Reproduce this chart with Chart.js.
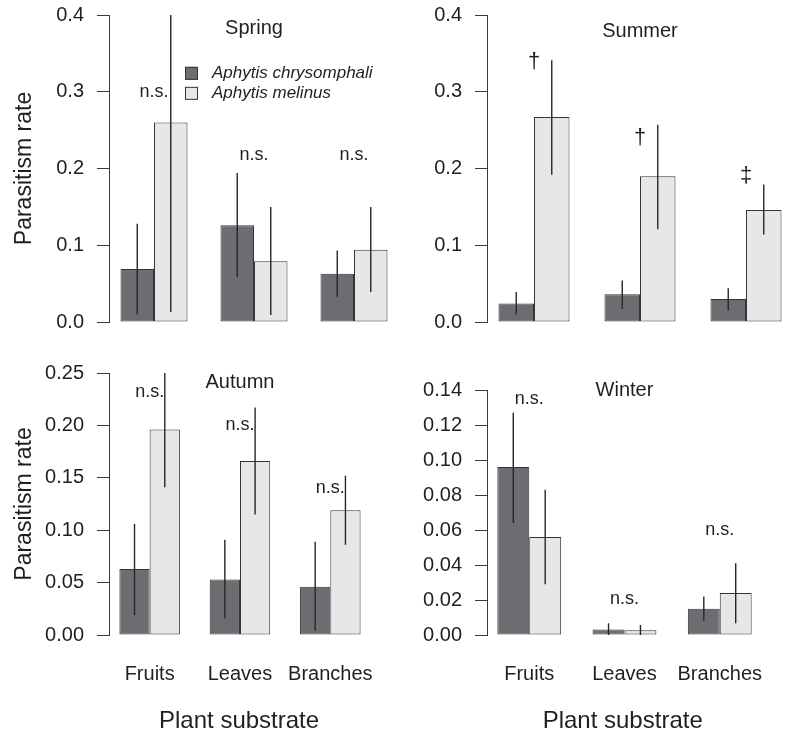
<!DOCTYPE html>
<html>
<head>
<meta charset="utf-8">
<script src="https://cdn.jsdelivr.net/npm/chart.js@4/dist/chart.umd.min.js"></script>
<style>
  html, body { margin: 0; padding: 0; background: #fff; }
  #wrap { position: relative; width: 789px; height: 733px; }
  canvas { position: absolute; }
</style>
</head>
<body>
<div id="wrap">
  <canvas id="spring" width="400" height="340" style="left:0;top:0"></canvas>
  <canvas id="summer" width="389" height="340" style="left:400px;top:0"></canvas>
  <canvas id="autumn" width="400" height="393" style="left:0;top:340px"></canvas>
  <canvas id="winter" width="389" height="393" style="left:400px;top:340px"></canvas>
</div>
<script>
var substrates = ['Fruits', 'Leaves', 'Branches'];
var speciesNames = ['Aphytis chrysomphali', 'Aphytis melinus'];

// Spring
var springChrys = [0.069, 0.126, 0.063];
var springChrysLo = [0.010, 0.059, 0.033];
var springChrysHi = [0.128, 0.194, 0.093];
var springMelin = [0.260, 0.079, 0.094];
var springMelinLo = [0.013, 0.009, 0.039];
var springMelinHi = [0.400, 0.150, 0.150];
var springMarks = ['n.s.', 'n.s.', 'n.s.'];
var springTicks = [0, 0.1, 0.2, 0.3, 0.4];

// Summer
var summerChrys = [0.024, 0.036, 0.030];
var summerChrysLo = [0.010, 0.017, 0.015];
var summerChrysHi = [0.039, 0.054, 0.044];
var summerMelin = [0.267, 0.190, 0.146];
var summerMelinLo = [0.192, 0.121, 0.114];
var summerMelinHi = [0.341, 0.257, 0.179];
var summerMarks = ['\u2020', '\u2020', '\u2021'];
var summerTicks = [0, 0.1, 0.2, 0.3, 0.4];

// Autumn
var autumnChrys = [0.063, 0.053, 0.046];
var autumnChrysLo = [0.019, 0.016, 0.004];
var autumnChrysHi = [0.106, 0.091, 0.089];
var autumnMelin = [0.196, 0.166, 0.119];
var autumnMelinLo = [0.141, 0.115, 0.086];
var autumnMelinHi = [0.250, 0.217, 0.152];
var autumnMarks = ['n.s.', 'n.s.', 'n.s.'];
var autumnTicks = [0, 0.05, 0.10, 0.15, 0.20, 0.25];

// Winter
var winterChrys = [0.096, 0.0032, 0.015];
var winterChrysLo = [0.064, 0.0, 0.008];
var winterChrysHi = [0.127, 0.0067, 0.022];
var winterMelin = [0.056, 0.0027, 0.024];
var winterMelinLo = [0.029, 0.0, 0.0067];
var winterMelinHi = [0.083, 0.0057, 0.041];
var winterMarks = ['n.s.', 'n.s.', 'n.s.'];
var winterTicks = [0, 0.02, 0.04, 0.06, 0.08, 0.10, 0.12, 0.14];

var FONT = "'Liberation Sans', Arial, Helvetica, sans-serif";
var DARK = '#6c6d71';
var LIGHT = '#e6e7e8';
var EDGE = '#353535';
var INK = '#1f1f1f';

Chart.defaults.font.family = FONT;
Chart.defaults.color = INK;

function barData(values) {
    return values.map(function (v, i) { return {x: i + 1, y: v}; });
}

var errorBars = {
    id: 'errorBars',
    afterDatasetsDraw: function (chart) {
        var ctx = chart.ctx, yScale = chart.scales.y;
        chart.data.datasets.forEach(function (ds, d) {
            var meta = chart.getDatasetMeta(d);
            meta.data.forEach(function (bar, i) {
                var y1 = yScale.getPixelForValue(ds.errLow[i]);
                var y2 = yScale.getPixelForValue(ds.errHigh[i]);
                ctx.save();
                ctx.strokeStyle = '#262626';
                ctx.lineWidth = 1.4;
                ctx.beginPath();
                ctx.moveTo(bar.x, y1);
                ctx.lineTo(bar.x, y2);
                ctx.stroke();
                ctx.restore();
            });
        });
    }
};

function textPlugin(cfg) {
    return {
        id: 'panelText',
        afterDraw: function (chart) {
            var ctx = chart.ctx, xs = chart.scales.x, ys = chart.scales.y;
            ctx.save();
            ctx.fillStyle = INK;
            ctx.textAlign = 'center';
            ctx.textBaseline = 'middle';
            // season title
            ctx.font = '20px ' + FONT;
            ctx.fillText(cfg.title, xs.getPixelForValue(2), ys.getPixelForValue(cfg.titleY));
            // significance marks
            ctx.font = cfg.markFont + 'px ' + FONT;
            cfg.marks.forEach(function (m, i) {
                ctx.fillText(m, xs.getPixelForValue(i + 1), ys.getPixelForValue(cfg.markY[i]));
            });
            // legend
            if (cfg.legend) {
                var lx = xs.getPixelForValue(cfg.legend.x);
                var ly = ys.getPixelForValue(cfg.legend.y);
                ctx.font = 'italic 17px ' + FONT;
                ctx.textAlign = 'left';
                [DARK, LIGHT].forEach(function (col, k) {
                    var cy = ly + k * 20;
                    ctx.fillStyle = col;
                    ctx.fillRect(lx, cy - 6.5, 13, 13);
                    ctx.strokeStyle = EDGE;
                    ctx.lineWidth = 1;
                    ctx.strokeRect(lx + 0.5, cy - 6, 12, 12);
                    ctx.fillStyle = INK;
                    ctx.fillText(speciesNames[k], lx + 27, cy);
                });
            }
            ctx.restore();
        }
    };
}

function makePanel(cfg) {
    var ctx = document.getElementById(cfg.id);
    return new Chart(ctx, {
        type: 'bar',
        data: {
            datasets: [
                {
                    label: speciesNames[0],
                    data: barData(cfg.chrys),
                    errLow: cfg.chrysLo,
                    errHigh: cfg.chrysHi,
                    backgroundColor: DARK,
                    borderColor: EDGE,
                    borderWidth: 1,
                    borderSkipped: false
                },
                {
                    label: speciesNames[1],
                    data: barData(cfg.melin),
                    errLow: cfg.melinLo,
                    errHigh: cfg.melinHi,
                    backgroundColor: LIGHT,
                    borderColor: EDGE,
                    borderWidth: 1,
                    borderSkipped: false
                }
            ]
        },
        options: {
            responsive: false,
            animation: false,
            categoryPercentage: 0.67,
            barPercentage: 1,
            layout: { padding: cfg.padding },
            plugins: { legend: { display: false }, tooltip: { enabled: false } },
            scales: {
                x: {
                    type: 'linear',
                    offset: false,
                    min: cfg.xMin,
                    max: cfg.xMax,
                    afterFit: function (s) { s.height = cfg.showX ? 98 : 0; },
                    grid: { display: false, drawTicks: false, offset: false },
                    border: { display: false },
                    ticks: {
                        display: cfg.showX,
                        stepSize: 1,
                        includeBounds: false,
                        padding: 27,
                        font: { size: 20 },
                        color: INK,
                        callback: function (v) { return substrates[v - 1] || ''; }
                    },
                    title: {
                        display: cfg.showX,
                        text: 'Plant substrate',
                        font: { size: 24, lineHeight: 1 },
                        color: INK,
                        padding: { top: 0, bottom: 0 }
                    }
                },
                y: {
                    min: cfg.yTicks[0],
                    max: cfg.yTicks[cfg.yTicks.length - 1],
                    afterFit: function (s) {
                        s.width = cfg.yWidth;
                        s.paddingTop = 0;
                        s.paddingBottom = 0;
                    },
                    afterBuildTicks: function (s) {
                        s.ticks = cfg.yTicks.map(function (v) { return {value: v}; });
                    },
                    grid: { display: true, drawOnChartArea: false, drawTicks: true, tickLength: 12, color: '#3a3a3a' },
                    border: { display: true, color: '#3a3a3a', width: 1 },
                    ticks: {
                        padding: 13,
                        font: { size: 20 },
                        color: INK,
                        callback: function (v) { return Number(v).toFixed(cfg.decimals); }
                    },
                    title: {
                        display: cfg.showYTitle,
                        text: 'Parasitism rate',
                        font: { size: 23, lineHeight: 1 },
                        color: INK,
                        padding: { top: 13, bottom: 0 }
                    }
                }
            }
        },
        plugins: [errorBars, textPlugin(cfg)]
    });
}

makePanel({
    id: 'spring', chrys: springChrys, chrysLo: springChrysLo, chrysHi: springChrysHi,
    melin: springMelin, melinLo: springMelinLo, melinHi: springMelinHi,
    yTicks: springTicks, decimals: 1, marks: springMarks, markY: [0.299, 0.218, 0.218], markFont: 18,
    title: 'Spring', titleY: 0.382, legend: { x: 1.31, y: 0.324 },
    xMin: 0.55, xMax: 3.43, yWidth: 109, showX: false, showYTitle: true,
    padding: { top: 15, right: 3, bottom: 18, left: 0 }
});

makePanel({
    id: 'summer', chrys: summerChrys, chrysLo: summerChrysLo, chrysHi: summerChrysHi,
    melin: summerMelin, melinLo: summerMelinLo, melinHi: summerMelinHi,
    yTicks: summerTicks, decimals: 1, marks: summerMarks, markY: [0.339, 0.2395, 0.19], markFont: 22,
    title: 'Summer', titleY: 0.378, legend: null,
    xMin: 0.5566, xMax: 3.4057, yWidth: 87, showX: false, showYTitle: false,
    padding: { top: 15, right: 0, bottom: 18, left: 0 }
});

makePanel({
    id: 'autumn', chrys: autumnChrys, chrysLo: autumnChrysLo, chrysHi: autumnChrysHi,
    melin: autumnMelin, melinLo: autumnMelinLo, melinHi: autumnMelinHi,
    yTicks: autumnTicks, decimals: 2, marks: autumnMarks, markY: [0.232, 0.200, 0.140], markFont: 18,
    title: 'Autumn', titleY: 0.2405, legend: null,
    xMin: 0.55, xMax: 3.43, yWidth: 109, showX: true, showYTitle: true,
    padding: { top: 33, right: 3, bottom: 0, left: 0 }
});

makePanel({
    id: 'winter', chrys: winterChrys, chrysLo: winterChrysLo, chrysHi: winterChrysHi,
    melin: winterMelin, melinLo: winterMelinLo, melinHi: winterMelinHi,
    yTicks: winterTicks, decimals: 2, marks: winterMarks, markY: [0.1347, 0.0204, 0.060], markFont: 18,
    title: 'Winter', titleY: 0.14, legend: null,
    xMin: 0.5566, xMax: 3.4057, yWidth: 87, showX: true, showYTitle: false,
    padding: { top: 50, right: 0, bottom: 0, left: 0 }
});
</script>
</body>
</html>
